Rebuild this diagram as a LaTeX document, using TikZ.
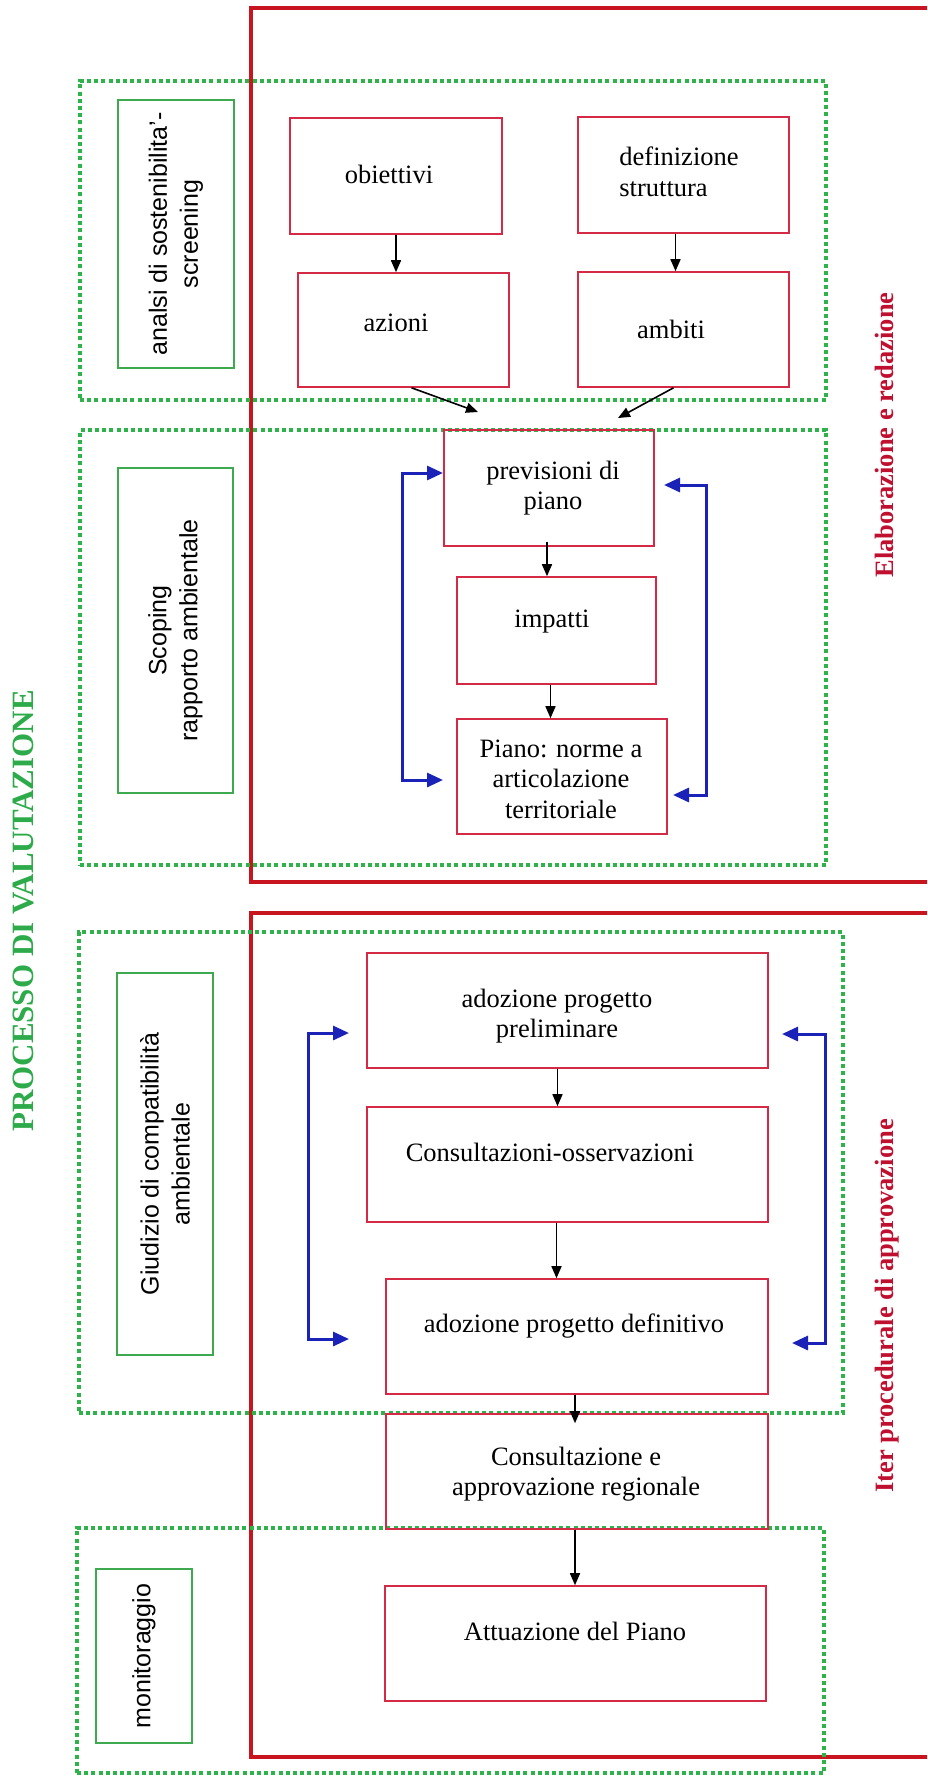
\documentclass[tikz,border=0pt]{standalone}
\usepackage{fontspec}
\setmainfont{Liberation Serif}
\newfontfamily\lsans{Liberation Sans}
\usetikzlibrary{arrows.meta,fit,calc}
\definecolor{fr}{HTML}{C8141E}
\definecolor{br}{HTML}{D42A45}
\definecolor{gd}{HTML}{2DB34A}
\definecolor{gl}{HTML}{3DAA50}
\definecolor{bl}{HTML}{1A22B8}
\definecolor{tg}{HTML}{2DAA4A}
\definecolor{tr}{HTML}{C01030}
\begin{document}
\begin{tikzpicture}[x=0.5pt,y=-0.5pt,
 frame/.style={draw=fr, line width=2pt},
 dotbox/.style={draw=gd, line width=2pt, dash pattern=on 2pt off 1.6pt, inner sep=0pt},
 lbox/.style={draw=gl, line width=1pt, inner sep=0pt},
 rbox/.style={draw=br, line width=0.8pt, inner sep=0pt},
 btxt/.style={font=\fontsize{13.25pt}{15.3pt}\selectfont, align=center, inner sep=0pt},
 ltxt/.style={font=\lsans\fontsize{12.5pt}{15.5pt}\selectfont, align=center, rotate=90, inner sep=0pt},
 arr/.style={draw=black, line width=0.8pt, -{Triangle[length=6pt,width=5pt]}},
 barr/.style={draw=bl, line width=1.5pt, {Triangle[length=8pt,width=7pt]}-{Triangle[length=8pt,width=7pt]}},
 side/.style={font=\bfseries\fontsize{13.25pt}{15pt}\selectfont, text=tr, rotate=90, anchor=base, inner sep=0pt}
]
\useasboundingbox (0,0) rectangle (927,1776);
\clip (0,0) rectangle (927,1776);

% red frames
\draw[frame] (940,8) -- (251,8) -- (251,882) -- (940,882);
\draw[frame] (940,913) -- (251,913) -- (251,1757) -- (940,1757);

% dotted green groups
\node[dotbox, fit={(80,81)(826,400)}] (D1) {};
\node[dotbox, fit={(80,430)(826,865)}] (D2) {};
\node[dotbox, fit={(79,932)(843,1413)}] (D3) {};
\node[dotbox, fit={(77,1528)(824,1773)}] (D4) {};

% green label boxes
\node[lbox, fit={(118,100)(234,368)}] (L1) {};
\node[lbox, fit={(118,468)(233,793)}] (L2) {};
\node[lbox, fit={(117,973)(213,1355)}] (L3) {};
\node[lbox, fit={(96,1569)(192,1743)}] (L4) {};
\node[ltxt] (tL1) at (L1.center) {analsi di sostenibilita’-\\screening};
\node[ltxt] (tL2) at (L2.center) {Scoping\\rapporto ambientale};
\node[ltxt] (tL3) at (L3.center) {Giudizio di compatibilità\\ambientale};
\node[ltxt] (tL4) at (L4.center) {monitoraggio};

% title and side labels
\node[font=\bfseries\fontsize{15.5pt}{15.5pt}\selectfont, text=tg, rotate=90, anchor=base, inner sep=0pt] (title) at (33,911) {PROCESSO DI VALUTAZIONE};
\node[side] (s1) at (893,435) {Elaborazione e redazione};
\node[side] (s2) at (893,1306) {Iter procedurale di approvazione};

% red boxes
\node[rbox, fit={(290,118)(502,234)}] (obj) {};
\node[rbox, fit={(578,117)(789,233)}] (def) {};
\node[rbox, fit={(298,273)(509,387)}] (az) {};
\node[rbox, fit={(578,272)(789,387)}] (amb) {};
\node[rbox, fit={(444,430)(654,546)}] (prev) {};
\node[rbox, fit={(457,577)(656,684)}] (imp) {};
\node[rbox, fit={(457,719)(667,834)}] (pia) {};
\node[rbox, fit={(367,953)(768,1068)}] (pre) {};
\node[rbox, fit={(367,1107)(768,1222)}] (cons) {};
\node[rbox, fit={(386,1279)(768,1394)}] (defi) {};
\node[rbox, fit={(386,1414)(768,1529)}] (reg) {};
\node[rbox, fit={(385,1586)(766,1701)}] (att) {};

\node[btxt] (tobj) at (389,174) {obiettivi};
\node[btxt, align=left] (tdef) at (679,172) {definizione\\struttura};
\node[btxt] (taz) at (396,323) {azioni};
\node[btxt] (tamb) at (671,329) {ambiti};
\node[btxt] (tprev) at (553,488) {previsioni di\\piano};
\node[btxt] (timp) at (552,622) {impatti};
\node[btxt] (tpia) at (561,779) {Piano: norme a\\articolazione\\territoriale};
\node[btxt] (tpre) at (557,1016) {adozione progetto\\preliminare};
\node[btxt] (tcons) at (550,1152) {Consultazioni-osservazioni};
\node[btxt] (tdefi) at (574,1326) {adozione progetto definitivo};
\node[btxt] (treg) at (576,1474) {Consultazione e\\approvazione regionale};
\node[btxt] (tatt) at (575,1631) {Attuazione del Piano};

% black arrows
\coordinate (m1) at (478,412);
\coordinate (m2) at (618,418);
\draw[arr] (obj.south) -- (obj.south |- az.north);
\draw[arr] ([xshift=-4pt]def.south) -- ([xshift=-4pt]def.south |- amb.north);
\draw[arr] ([xshift=4pt]az.south) -- (m1);
\draw[arr] ([xshift=-5pt]amb.south) -- (m2);
\draw[arr] ([xshift=-1pt,yshift=2.5pt]prev.south) -- ([xshift=-1pt]prev.south |- imp.north);
\draw[arr] ([xshift=-3pt]imp.south) -- ([xshift=-3pt]imp.south |- pia.north);
\draw[arr] ([xshift=-5pt]pre.south) -- ([xshift=-5pt]pre.south |- cons.north);
\draw[arr] ([xshift=-5.5pt]cons.south) -- ([xshift=-5.5pt]cons.south |- defi.north);
\draw[arr] ([xshift=-1pt]defi.south) -- ([xshift=-1pt,yshift=-5pt]defi.south |- reg.north);
\draw[arr] ([xshift=-1pt]reg.south) -- ([xshift=-1pt]reg.south |- att.north);

% blue feedback brackets
\coordinate (a1) at (443,473); \coordinate (a2) at (443,780); \coordinate (ax) at (402,0);
\coordinate (b1) at (664,485); \coordinate (b2) at (673,795); \coordinate (bx) at (706,0);
\coordinate (c1) at (349,1033); \coordinate (c2) at (349,1339); \coordinate (cx) at (308,0);
\coordinate (d1) at (782,1034); \coordinate (d2) at (792,1343); \coordinate (dx) at (825,0);
\draw[barr] (a1) -- (a1 -| ax) -- (a2 -| ax) -- (a2);
\draw[barr] (b1) -- (b1 -| bx) -- (b2 -| bx) -- (b2);
\draw[barr] (c1) -- (c1 -| cx) -- (c2 -| cx) -- (c2);
\draw[barr] (d1) -- (d1 -| dx) -- (d2 -| dx) -- (d2);
\end{tikzpicture}
\end{document}
